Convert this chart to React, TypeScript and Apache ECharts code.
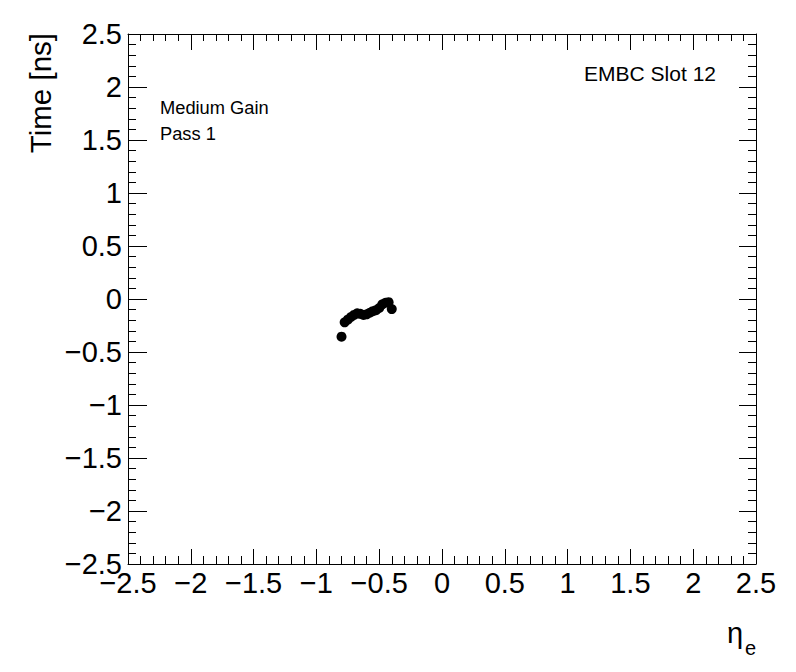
import React, { useEffect, useRef } from "react";
import * as echarts from "echarts";

const etaValues: number[] = [-0.8, -0.775, -0.75, -0.725, -0.7, -0.675, -0.65, -0.625, -0.6, -0.575, -0.55, -0.525, -0.5, -0.475, -0.45, -0.425, -0.4];
const timeValues: number[] = [-0.355, -0.22, -0.195, -0.17, -0.15, -0.135, -0.14, -0.15, -0.145, -0.13, -0.115, -0.105, -0.085, -0.05, -0.035, -0.03, -0.095];

const xTitle = "η";
const xTitleSub = "e";
const yTitle = "Time [ns]";
const labelLines = ["Medium Gain", "Pass 1"];
const slotLabel = "EMBC Slot 12";

const FONT = "Liberation Sans, Arial, Helvetica, sans-serif";

const fmt = (v: number) => {
  const s = String(Math.round(v * 10) / 10);
  return s.replace("-", "\u2212");
};

export default function App() {
  const ref = useRef<HTMLDivElement>(null);
  useEffect(() => {
    if (!ref.current) return;
    const chart = echarts.init(ref.current, undefined, { renderer: "svg" });
    const line = { show: true, lineStyle: { color: "#000", width: 1 } };
    const mkX = (pos: "bottom" | "top", major: number, minor: number, labels: boolean) => ({
      type: "value",
      position: pos,
      min: -2.5,
      max: 2.5,
      interval: 0.5,
      axisLine: { ...line, onZero: false },
      axisTick: { show: true, inside: true, length: major, lineStyle: { color: "#000", width: 1 } },
      minorTick: { show: true, splitNumber: 5, length: minor, lineStyle: { color: "#000", width: 1 } },
      splitLine: { show: false },
      minorSplitLine: { show: false },
      axisLabel: {
        show: labels,
        fontSize: 29,
        fontFamily: FONT,
        color: "#000",
        margin: 4,
        formatter: fmt,
        showMinLabel: true,
        showMaxLabel: true,
      },
    });
    const mkY = (pos: "left" | "right", major: number, minor: number, labels: boolean) => ({
      type: "value",
      position: pos,
      min: -2.5,
      max: 2.5,
      interval: 0.5,
      axisLine: { ...line, onZero: false },
      axisTick: { show: true, inside: true, length: major, lineStyle: { color: "#000", width: 1 } },
      minorTick: { show: true, splitNumber: 5, length: minor, lineStyle: { color: "#000", width: 1 } },
      splitLine: { show: false },
      minorSplitLine: { show: false },
      axisLabel: {
        show: labels,
        fontSize: 29,
        fontFamily: FONT,
        color: "#000",
        margin: 6,
        formatter: fmt,
        showMinLabel: true,
        showMaxLabel: true,
      },
    });
    chart.setOption({
      animation: false,
      backgroundColor: "#fff",
      grid: { left: 128, top: 34, right: 40, bottom: 108, containLabel: false },
      xAxis: [mkX("bottom", 15, 8, true), mkX("top", 16, 7, false)],
      yAxis: [mkY("left", 19, 8, true), mkY("right", 17, 8, false)],
      series: [
        {
          type: "scatter",
          xAxisIndex: 0,
          yAxisIndex: 0,
          symbol: "circle",
          symbolSize: 10,
          itemStyle: { color: "#000", opacity: 1 },
          data: etaValues.map((x, i) => [x, timeValues[i]]),
        },
      ],
      graphic: [
        {
          type: "text",
          x: 40,
          y: 33,
          rotation: Math.PI / 2,
          style: { text: yTitle, fontSize: 29.5, fontFamily: FONT, fill: "#000", align: "right", verticalAlign: "middle" },
        },
        {
          type: "text",
          x: 727,
          y: 633,
          style: { text: xTitle, fontSize: 29, fontFamily: FONT, fill: "#000", align: "left", verticalAlign: "middle" },
        },
        {
          type: "text",
          x: 745,
          y: 648,
          style: { text: xTitleSub, fontSize: 20, fontFamily: FONT, fill: "#000", align: "left", verticalAlign: "middle" },
        },
        {
          type: "text",
          x: 160,
          y: 107,
          style: { text: labelLines[0], fontSize: 18.3, fontFamily: FONT, fill: "#000", align: "left", verticalAlign: "middle" },
        },
        {
          type: "text",
          x: 160,
          y: 133,
          style: { text: labelLines[1], fontSize: 18.3, fontFamily: FONT, fill: "#000", align: "left", verticalAlign: "middle" },
        },
        {
          type: "text",
          x: 716,
          y: 73,
          style: { text: slotLabel, fontSize: 21, fontFamily: FONT, fill: "#000", align: "right", verticalAlign: "middle" },
        },
      ],
    });
    return () => chart.dispose();
  }, []);
  return <div ref={ref} style={{ position: "absolute", left: 0, top: 0, width: 796, height: 672 }} />;
}
